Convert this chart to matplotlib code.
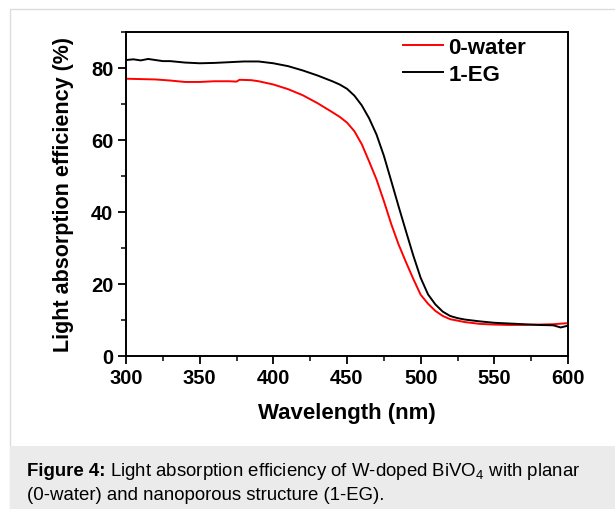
import matplotlib
matplotlib.use("Agg")
import matplotlib.pyplot as plt
from matplotlib.patches import Rectangle
from matplotlib.ticker import MultipleLocator

plt.rcParams['font.family'] = ['Liberation Sans', 'DejaVu Sans']
plt.rcParams['mathtext.fontset'] = 'custom'
plt.rcParams['mathtext.rm'] = 'Liberation Sans'
plt.rcParams['mathtext.it'] = 'Liberation Sans:italic'
plt.rcParams['mathtext.bf'] = 'Liberation Sans:bold'

# ---- data ----
wl_water = [300, 310, 320, 330, 340, 350, 360, 370, 375, 377, 385, 390, 400, 410, 420,
            430, 440, 445, 450, 455, 460, 465, 470, 475, 480, 485, 490, 495, 500, 505,
            510, 515, 520, 530, 540, 550, 560, 570, 580, 590, 600]
abs_water = [77.0, 76.9, 76.8, 76.5, 76.1, 76.1, 76.3, 76.3, 76.2, 76.7, 76.6, 76.3, 75.4,
             74.1, 72.4, 70.2, 67.7, 66.4, 64.8, 62.4, 58.8, 54.0, 49.0, 43.0, 36.6, 30.9,
             26.0, 21.3, 16.9, 14.4, 12.4, 11.0, 10.1, 9.3, 8.8, 8.6, 8.5, 8.5, 8.6, 8.7, 9.0]

wl_eg = [300, 305, 310, 315, 320, 325, 330, 340, 350, 360, 370, 380, 390, 400, 410, 420,
         430, 440, 445, 450, 455, 460, 465, 470, 475, 480, 485, 490, 495, 500, 505, 510,
         515, 520, 525, 530, 540, 550, 560, 570, 580, 590, 595, 600]
abs_eg = [82.2, 82.4, 82.1, 82.5, 82.2, 81.9, 81.9, 81.5, 81.3, 81.4, 81.6, 81.8, 81.8,
          81.3, 80.5, 79.3, 77.9, 76.3, 75.4, 74.2, 72.3, 69.6, 66.0, 61.5, 55.6, 48.6,
          41.5, 34.6, 27.8, 21.6, 17.0, 14.2, 12.2, 11.0, 10.4, 10.0, 9.5, 9.1, 8.9, 8.7,
          8.5, 8.4, 7.8, 8.3]

labels = ['0-water', '1-EG']
colors = ['#ff0000', '#000000']

x_ticks = [300, 350, 400, 450, 500, 550, 600]
y_ticks = [0, 20, 40, 60, 80]

W, H = 615, 510
fig = plt.figure(figsize=(W / 100, H / 100), dpi=100)
fig.patch.set_facecolor('white')

# panel border and caption box
fig.patches.append(Rectangle((10 / W, 0), 1.0, (H - 10) / H, transform=fig.transFigure,
                             facecolor='white', edgecolor='#dcdcdc', lw=1.0, zorder=-2))
fig.patches.append(Rectangle((10 / W, 0), 1.0, (H - 447) / H, transform=fig.transFigure,
                             facecolor='#ebebeb', edgecolor='none', zorder=-1))

ax = fig.add_axes([126 / W, (H - 356.5) / H, (568 - 126) / W, (356.5 - 33) / H])
ax.plot(wl_water, abs_water, color=colors[0], lw=1.4, label=labels[0])
ax.plot(wl_eg, abs_eg, color=colors[1], lw=1.4, label=labels[1])

ax.set_xlim(300, 600)
ax.set_ylim(0, 90)
ax.set_xticks(x_ticks)
ax.set_yticks(y_ticks)
ax.xaxis.set_minor_locator(MultipleLocator(25))
ax.yaxis.set_minor_locator(MultipleLocator(10))
ax.tick_params(which='major', direction='out', length=6, width=1.3, pad=3,
               labelsize=14.5, top=False, right=False)
ax.tick_params(which='minor', direction='out', length=3.5, width=1.1, top=False, right=False)
for lab in ax.get_xticklabels() + ax.get_yticklabels():
    lab.set_fontweight('bold')
for s in ax.spines.values():
    s.set_linewidth(1.4)

ax.set_xlabel('Wavelength (nm)', fontsize=16, fontweight='bold', labelpad=11)
ax.set_ylabel('Light absorption efficiency (%)', fontsize=15.5, fontweight='bold', labelpad=12)

leg = ax.legend(loc='upper left', bbox_to_anchor=(403 / W, (H - 38) / H),
                bbox_transform=fig.transFigure, frameon=False,
                handlelength=1.8, handletextpad=0.25, labelspacing=0.25,
                borderpad=0, borderaxespad=0, prop={'weight': 'bold', 'size': 16})

# caption
t1 = fig.text(27 / W, (H - 476) / H, 'Figure 4:', fontsize=13.4, fontweight='bold',
              va='baseline', ha='left')
fig.canvas.draw()
bb = t1.get_window_extent(renderer=fig.canvas.get_renderer())
fig.text((bb.x1 + 4) / W, (H - 476) / H,
         r'Light absorption efficiency of W-doped BiVO$_{\mathregular{4}}$ with planar',
         fontsize=13.4, va='baseline', ha='left')
fig.text(27 / W, (H - 500) / H, '(0-water) and nanoporous structure (1-EG).',
         fontsize=13.4, va='baseline', ha='left')

fig.savefig('out.png', dpi=100)
